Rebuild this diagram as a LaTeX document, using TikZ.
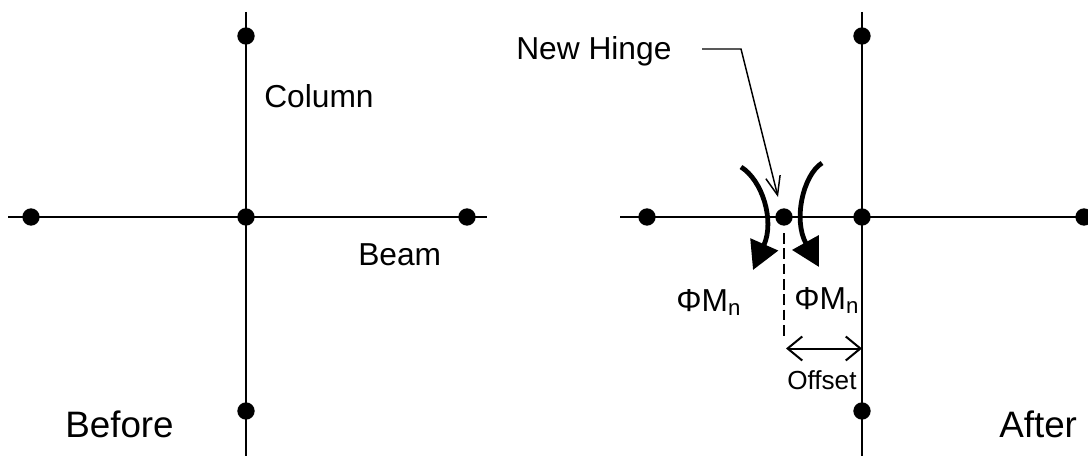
\documentclass[tikz,border=0pt]{standalone}
\usepackage{fontspec}
\setmainfont{Liberation Sans}
\usetikzlibrary{arrows.meta}

\begin{document}
\begin{tikzpicture}[
x=0.75pt, y=-0.75pt,
hinge/.style={circle, fill=black, inner sep=0pt, minimum size=13pt},
member/.style={draw=black, line width=1.5pt},
moment/.style={draw=black, line width=3.6pt, -{Triangle[length=21pt, width=22pt]}},
leader/.style={draw=black, line width=1.1pt, -{Straight Barb[length=14pt, width=11pt, line width=1.1pt]}},
offsetdim/.style={draw=black, line width=1.5pt, {Straight Barb[length=11pt, width=18pt, line width=1.5pt]}-{Straight Barb[length=11pt, width=18pt, line width=1.5pt]}},
caption/.style={anchor=base west, inner sep=0pt, font=\fontsize{27.6}{28}\selectfont},
tag/.style={anchor=base west, inner sep=0pt, font=\fontsize{23.8}{24}\selectfont},
small tag/.style={anchor=base west, inner sep=0pt, font=\fontsize{19.6}{20}\selectfont},
]
\useasboundingbox (0,0) rectangle (1088,456);

% before
\coordinate (colTopA) at (246,12);
\coordinate (colBotA) at (246,456);
\coordinate (beamLeftA) at (8,217);
\coordinate (beamRightA) at (487,217);
\draw[member] (colTopA) -- (colBotA);
\draw[member] (beamLeftA) -- (beamRightA);
\node[hinge] (topA) at (246,36) {};
\node[hinge] (jointA) at (246,217) {};
\node[hinge] (botA) at (246,411) {};
\node[hinge] (leftA) at (31,217) {};
\node[hinge] (rightA) at (467,217) {};
\node[tag] (column) at (264,108) {Column};
\node[tag] (beam) at (358,265) {Beam};
\node[caption] (before) at (65,437) {Before};

% after
\coordinate (colTopB) at (862,12);
\coordinate (colBotB) at (862,456);
\coordinate (beamLeftB) at (620,217);
\coordinate (beamRightB) at (1088,217);
\draw[member] (colTopB) -- (colBotB);
\draw[member] (beamLeftB) -- (beamRightB);
\node[hinge] (topB) at (862,36) {};
\node[hinge] (jointB) at (862,217) {};
\node[hinge] (botB) at (862,411) {};
\node[hinge] (leftB) at (647,217) {};
\node[hinge] (newHinge) at (784,217) {};
\node[hinge] (rightB) at (1084,217) {};

% hinge leader
\node[tag] (hingeText) at (516,60) {New Hinge};
\coordinate (leadStart) at (702,49);
\coordinate (leadBend) at (741,49);
\coordinate (leadEnd) at (778,197);
\draw[leader] (leadStart) -- (leadBend) -- (leadEnd);

% moments
\coordinate (momAStart) at (741,167);
\coordinate (momAEnd) at (753,270);
\coordinate (momBStart) at (822,163);
\coordinate (momBEnd) at (819,267);
\draw[moment] (momAStart) .. controls (762,180) and (775,220) .. (momAEnd);
\draw[moment] (momBStart) .. controls (803,175) and (793,220) .. (momBEnd);
\node[tag] (momAText) at (676,311) {ΦM\textsubscript{n}};
\node[tag] (momBText) at (794,309) {ΦM\textsubscript{n}};

% offset
\coordinate (dashEnd) at (784,337);
\coordinate (dimEnd) at (862,348.5);
\coordinate (dimStart) at (786,348.5);
\draw[black, line width=1.2pt, dash pattern=on 8pt off 3.5pt] (784,233) -- (dashEnd);
\draw[offsetdim] (dimStart) -- (dimEnd);
\node[small tag] (offsetText) at (787,389) {Offset};
\node[caption] (after) at (999,437) {After};
\end{tikzpicture}
\end{document}
